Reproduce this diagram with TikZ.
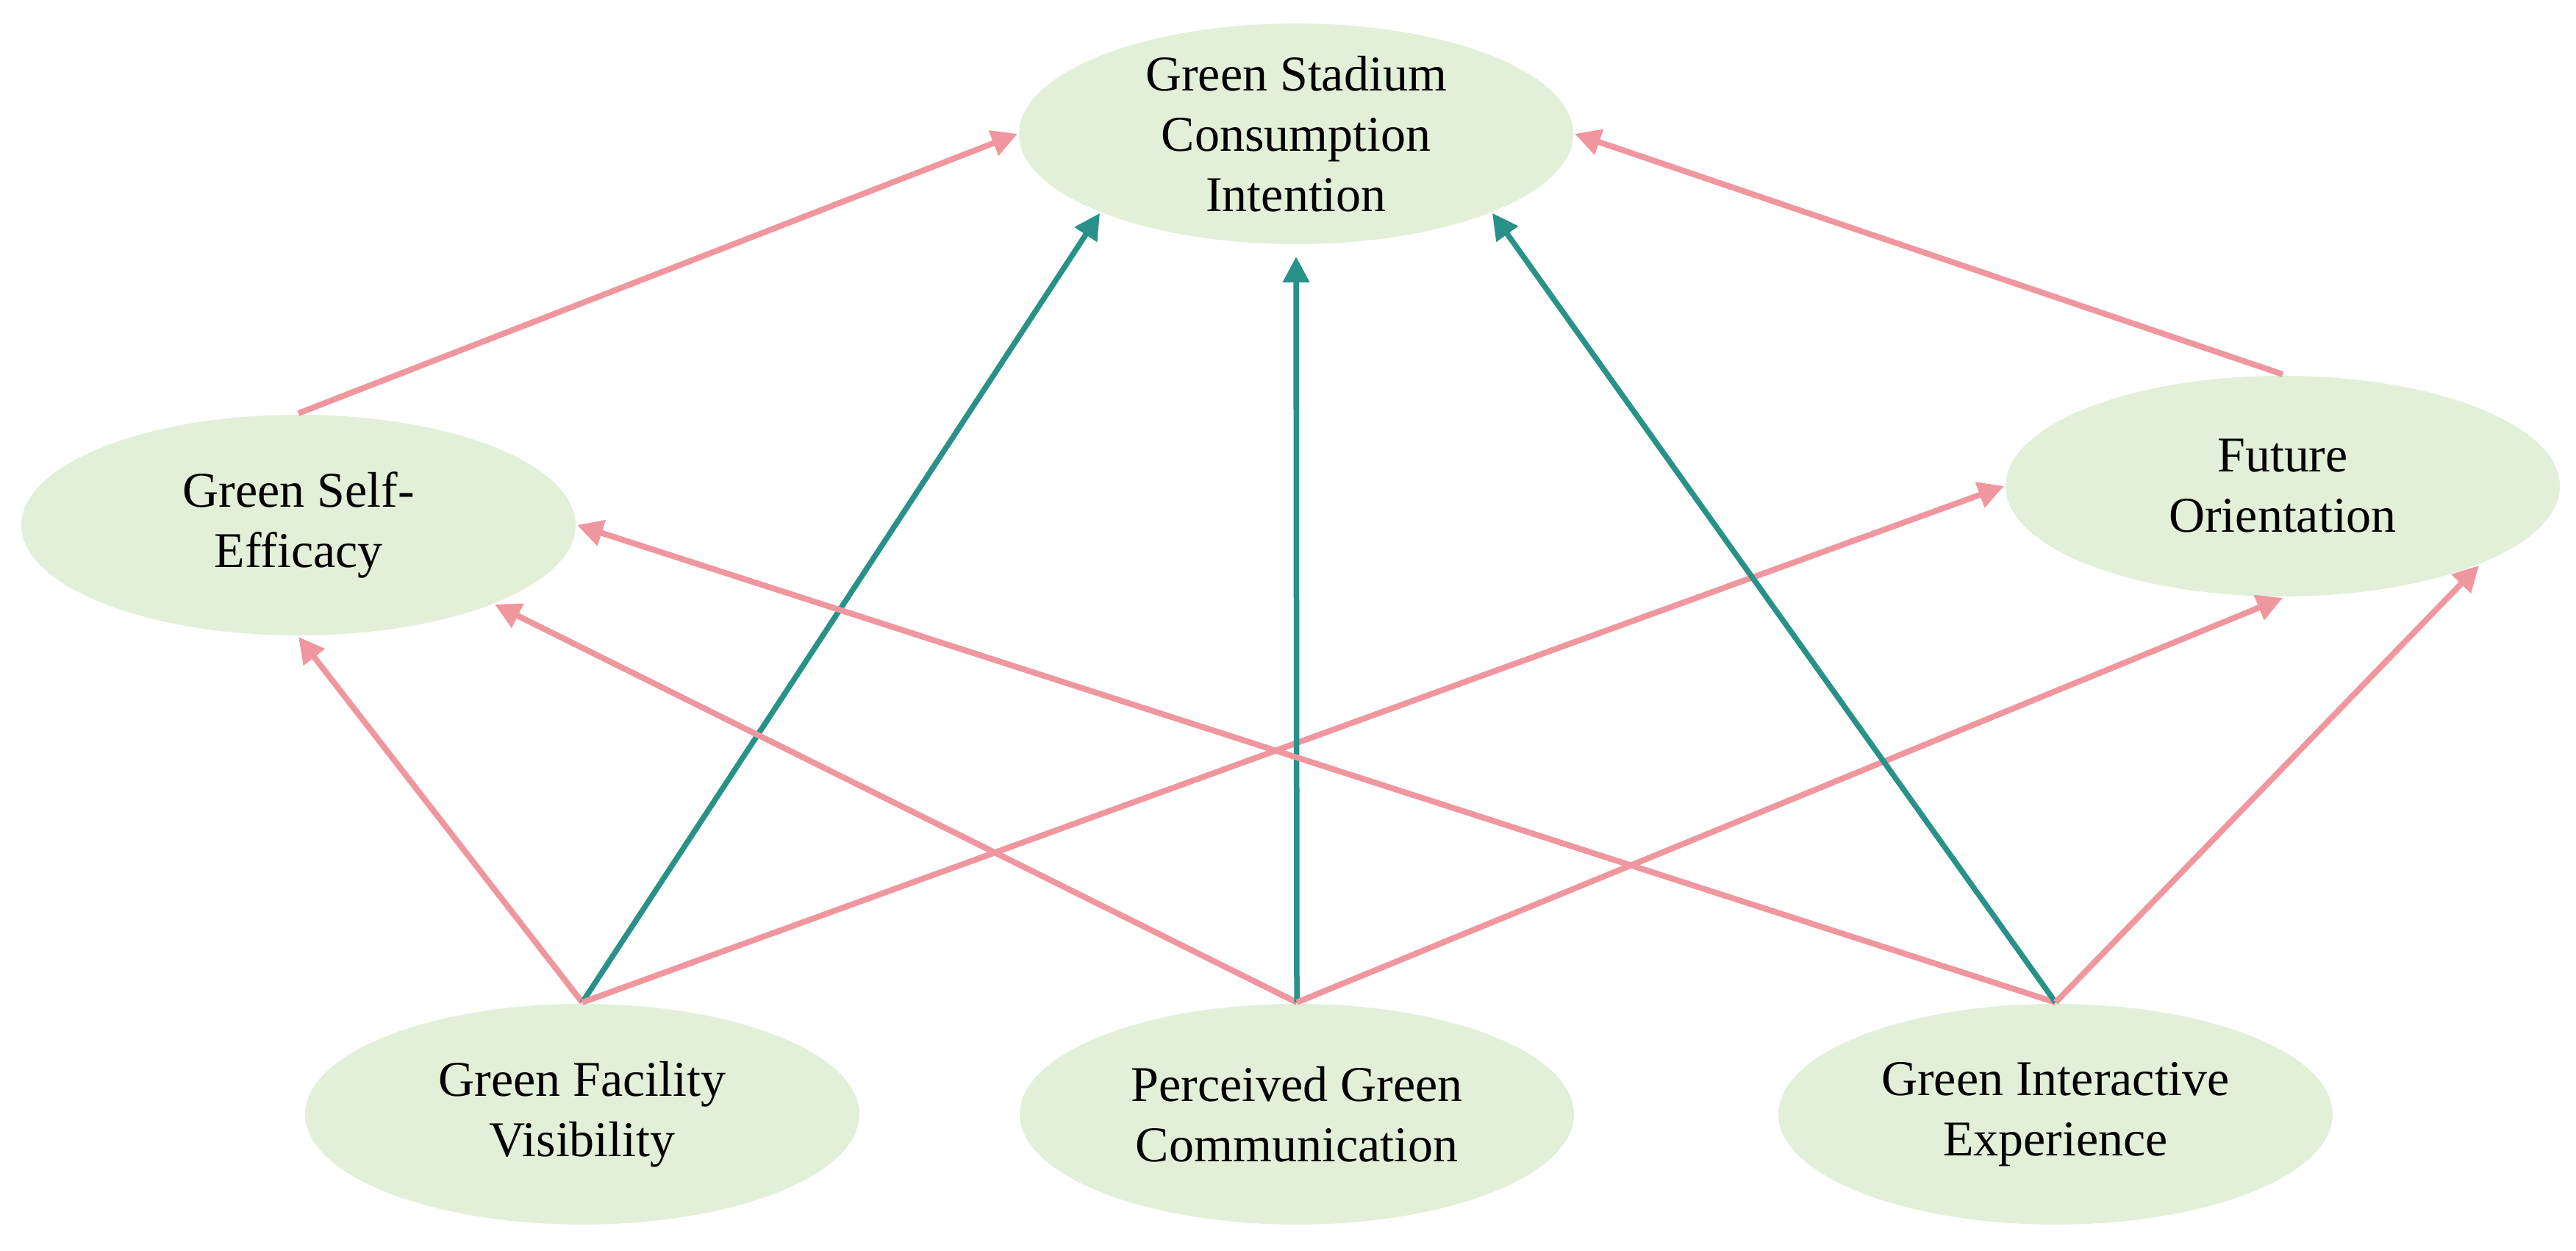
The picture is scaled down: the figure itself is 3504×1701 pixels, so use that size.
\documentclass[tikz,border=0pt]{standalone}
\usepackage{fontspec}
\setmainfont{Liberation Serif}
\usetikzlibrary{shapes.geometric,arrows.meta}
\definecolor{ellfill}{HTML}{E2F0D9}
\definecolor{pinkln}{HTML}{F0969F}
\definecolor{tealln}{HTML}{28918A}
\tikzset{
  construct/.style={ellipse, fill=ellfill, draw=none, inner sep=0pt,
    minimum width=75.4pt, minimum height=30pt},
  lbl/.style={align=center, inner sep=0pt, text=black,
    font=\fontsize{6.8}{8.2}\selectfont},
  pinkarrow/.style={draw=pinkln, line width=0.8pt,
    -{Triangle[length=3.5pt,width=3.5pt]}},
  tealarrow/.style={draw=tealln, line width=0.75pt,
    -{Triangle[length=3.5pt,width=3.5pt]}}
}
\begin{document}
\begin{tikzpicture}[x=0.1pt,y=-0.1pt]
\useasboundingbox (0,0) rectangle (3504,1701);
% constructs
\node[construct] (gsci) at (1763,182) {};
\node[construct] (gse)  at (406,714) {};
\node[construct] (fo)   at (3105,661) {};
\node[construct] (gfv)  at (792,1515) {};
\node[construct] (pgc)  at (1764,1515) {};
\node[construct] (gie)  at (2796,1515) {};
% labels
\node[lbl] (gsci-t) at (gsci) {Green Stadium\\Consumption\\Intention};
\node[lbl] (gse-t)  at (gse)  {Green Self-\\Efficacy};
\node[lbl] (fo-t)   at (fo)   {Future\\Orientation};
\node[lbl] (gfv-t)  at (gfv)  {Green Facility\\Visibility};
\node[lbl] (pgc-t)  at (pgc)  {Perceived Green\\Communication};
\node[lbl] (gie-t)  at (gie)  {Green Interactive\\Experience};
% mediators to outcome
\draw[pinkarrow] (gse.north) -- (gsci.west);
\draw[pinkarrow] (fo.north) -- (gsci.east);
% Green Facility Visibility
\draw[pinkarrow] (gfv.north) -- (gse.south);
\draw[tealarrow] (gfv.north) -- (gsci.-158);
\draw[pinkarrow] (gfv.north) -- (fo.west);
% Perceived Green Communication
\draw[pinkarrow] (pgc.north) -- (gse.-22);
\draw[tealarrow, shorten >=1.5pt] (pgc.north) -- (gsci.south);
\draw[pinkarrow] (pgc.north) -- (fo.south);
% Green Interactive Experience
\draw[pinkarrow] (gie.north) -- (gse.east);
\draw[tealarrow] (gie.north) -- (gsci.-22);
\draw[pinkarrow] (gie.north) -- (fo.-22);
\end{tikzpicture}
\end{document}
